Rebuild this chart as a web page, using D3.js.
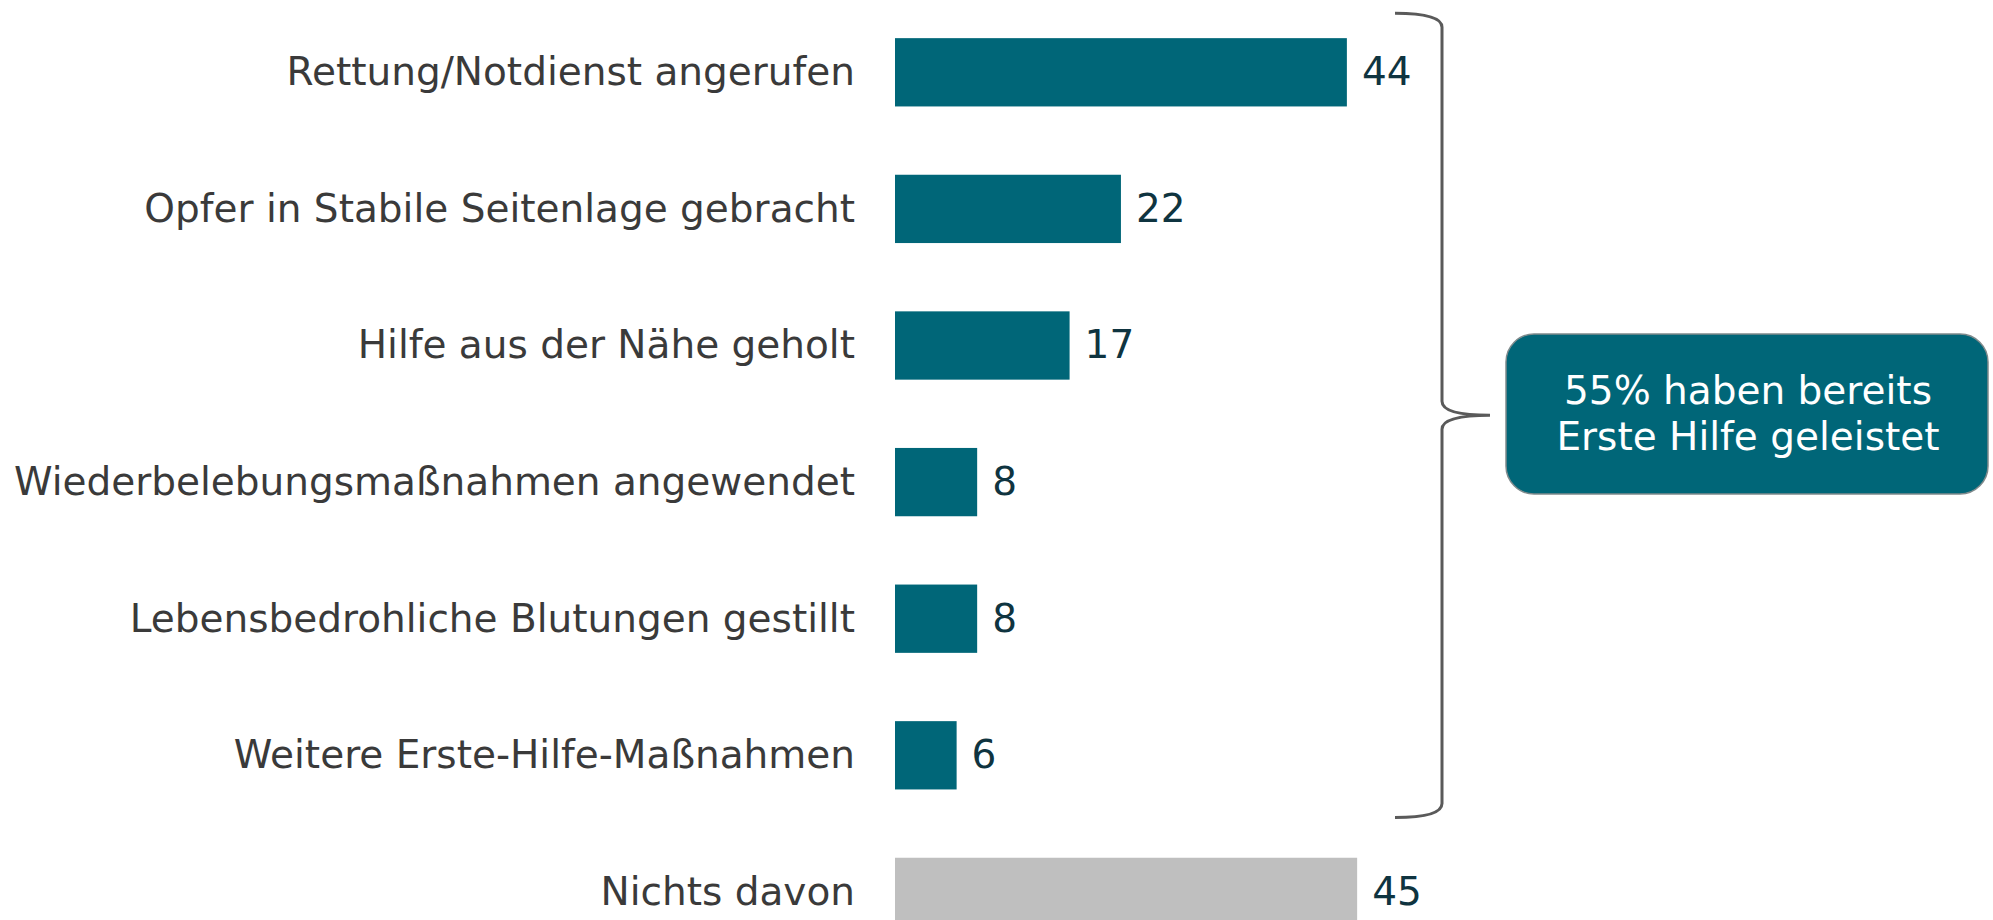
<!DOCTYPE html>
<html>
<head>
<meta charset="utf-8">
<script src="https://cdn.jsdelivr.net/npm/d3@7"></script>
<style>
  body { margin: 0; background: #fff; }
  svg { display: block; font-family: "DejaVu Sans", Verdana, sans-serif; }
</style>
</head>
<body>
<div id="chart"></div>
<script>
// Chart data
var categories = [
  "Rettung/Notdienst angerufen",
  "Opfer in Stabile Seitenlage gebracht",
  "Hilfe aus der Nähe geholt",
  "Wiederbelebungsmaßnahmen angewendet",
  "Lebensbedrohliche Blutungen gestillt",
  "Weitere Erste-Hilfe-Maßnahmen",
  "Nichts davon"
];
var values = [44, 22, 17, 8, 8, 6, 45];
var calloutLines = ["55% haben bereits", "Erste Hilfe geleistet"];

var svgWidth = 1993;
var svgHeight = 920;

var svg = d3.select("#chart")
  .append("svg")
  .attr("width", svgWidth)
  .attr("height", svgHeight);

// Scales
var xScale = d3.scaleLinear()
  .domain([0, 45])
  .range([895, 895 + 45 * 10.27]);

var yScale = d3.scaleBand()
  .domain(categories)
  .range([4, 4 + 7 * 136.6])
  .paddingInner(0.5)
  .paddingOuter(0.25);

var teal = "#006678";

// Bars
svg.selectAll("rect.bar")
  .data(values)
  .enter()
  .append("rect")
  .attr("class", "bar")
  .attr("x", xScale(0))
  .attr("y", (d, i) => yScale(categories[i]))
  .attr("width", d => xScale(d) - xScale(0))
  .attr("height", yScale.bandwidth())
  .attr("fill", (d, i) => i === categories.length - 1 ? "#bfbfbf" : teal);

// Category labels
svg.selectAll("text.cat")
  .data(categories)
  .enter()
  .append("text")
  .attr("class", "cat")
  .attr("x", xScale(0) - 40)
  .attr("y", d => yScale(d) + yScale.bandwidth() / 2)
  .attr("dy", "0.33em")
  .attr("text-anchor", "end")
  .attr("font-size", 39)
  .attr("fill", "#3a3a3a")
  .text(d => d);

// Value labels
svg.selectAll("text.val")
  .data(values)
  .enter()
  .append("text")
  .attr("class", "val")
  .attr("x", d => xScale(d) + 15)
  .attr("y", (d, i) => yScale(categories[i]) + yScale.bandwidth() / 2)
  .attr("dy", "0.33em")
  .attr("font-size", 39)
  .attr("fill", "#0f3440")
  .text(d => d);

// Curly bracket over the first six bars
var braceTop = yScale(categories[0]) - 25;
var braceBottom = yScale(categories[5]) + yScale.bandwidth() + 28;
var braceMid = (braceTop + braceBottom) / 2;
var bx = 1442, lx = 1395, tipX = 1490;

var bracket = d3.path();
bracket.moveTo(lx, braceTop);
bracket.quadraticCurveTo(bx, braceTop, bx, braceTop + 14);
bracket.lineTo(bx, braceMid - 14);
bracket.quadraticCurveTo(bx, braceMid, tipX, braceMid);
bracket.moveTo(tipX, braceMid);
bracket.quadraticCurveTo(bx, braceMid, bx, braceMid + 14);
bracket.lineTo(bx, braceBottom - 14);
bracket.quadraticCurveTo(bx, braceBottom, lx, braceBottom);

svg.append("path")
  .attr("d", bracket.toString())
  .attr("fill", "none")
  .attr("stroke", "#5a5a5a")
  .attr("stroke-width", 3);

// Callout box
var box = svg.append("g");
box.append("rect")
  .attr("x", 1506)
  .attr("y", 334)
  .attr("width", 482)
  .attr("height", 160)
  .attr("rx", 28)
  .attr("ry", 28)
  .attr("fill", teal)
  .attr("stroke", "#7f8a8c")
  .attr("stroke-width", 1.5);

box.selectAll("text")
  .data(calloutLines)
  .enter()
  .append("text")
  .attr("x", 1748)
  .attr("y", (d, i) => 404 + i * 46)
  .attr("text-anchor", "middle")
  .attr("font-size", 39)
  .attr("fill", "#ffffff")
  .text(d => d);
</script>
</body>
</html>
